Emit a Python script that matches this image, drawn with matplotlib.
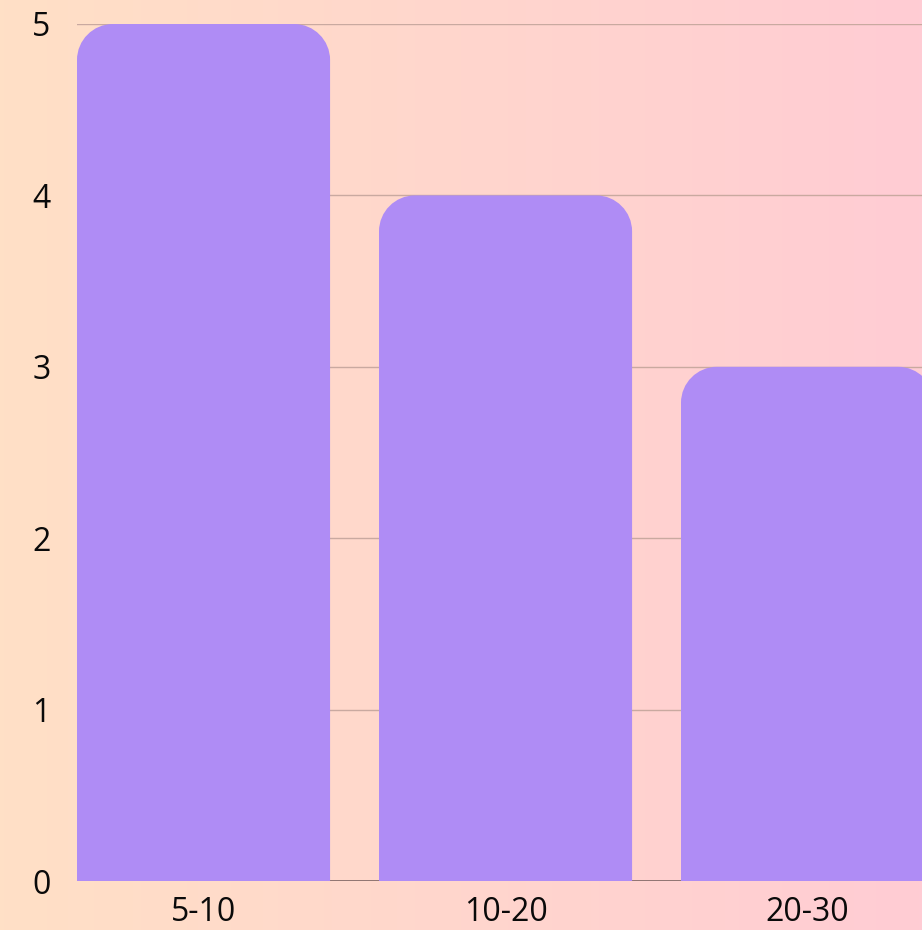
import numpy as np
import matplotlib
matplotlib.use("Agg")
import matplotlib.pyplot as plt
from matplotlib.path import Path
from matplotlib.patches import PathPatch

categories = ["5-10", "10-20", "20-30"]
values = [5, 4, 3]
yticks = [0, 1, 2, 3, 4, 5]

W, H = 922, 930
fig = plt.figure(figsize=(W / 100, H / 100), dpi=100)

# background gradient
bg = fig.add_axes([0, 0, 1, 1], zorder=0)
left = np.array([255, 224, 198]) / 255
right = np.array([255, 204, 212]) / 255
t = np.linspace(0, 1, 256)
grad = (left[None, :] * (1 - t[:, None]) + right[None, :] * t[:, None])[None, :, :]
bg.imshow(grad, aspect="auto", extent=[0, 1, 0, 1])
bg.set_axis_off()

ax = fig.add_axes([77 / W, (H - 881) / H, 1 - 77 / W, (881 - 24) / H], zorder=1)
ax.patch.set_alpha(0)
ax.set_ylim(0, 5)
ax.set_xlim(-0.419, 2.379)

bar_w = 0.838
px_x = 302.0  # pixels per x unit
px_y = 171.4  # pixels per y unit
r = 36
rx, ry = r / px_x, r / px_y
k = 0.5523

for gy in yticks[1:]:
    ax.axhline(gy, color="#c9a9a0", lw=1.0, zorder=1)
ax.axhline(0, color="#7d6462", lw=1.2, zorder=1)

xs = np.arange(len(categories))
for x, v in zip(xs, values):
    x0, x1 = x - bar_w / 2, x + bar_w / 2
    verts = [
        (x0, 0), (x0, v - ry),
        (x0, v - ry + k * ry), (x0 + rx - k * rx, v), (x0 + rx, v),
        (x1 - rx, v),
        (x1 - rx + k * rx, v), (x1, v - ry + k * ry), (x1, v - ry),
        (x1, 0), (x0, 0),
    ]
    codes = [Path.MOVETO, Path.LINETO,
             Path.CURVE4, Path.CURVE4, Path.CURVE4,
             Path.LINETO,
             Path.CURVE4, Path.CURVE4, Path.CURVE4,
             Path.LINETO, Path.CLOSEPOLY]
    ax.add_patch(PathPatch(Path(verts, codes), facecolor="#af8cf5",
                           edgecolor="none", zorder=2, clip_on=True))

ax.set_xticks(xs)
ax.set_xticklabels(categories)
ax.set_yticks(yticks)
ax.set_yticklabels([str(v) for v in yticks])
for s in ax.spines.values():
    s.set_visible(False)
ax.tick_params(axis="both", length=0, labelsize=23, labelcolor="#0a0a0a")
ax.tick_params(axis="y", pad=19)
ax.tick_params(axis="x", pad=11)
for lab in ax.get_xticklabels() + ax.get_yticklabels():
    lab.set_fontfamily("Open Sans")

fig.savefig("out.png", dpi=100)
